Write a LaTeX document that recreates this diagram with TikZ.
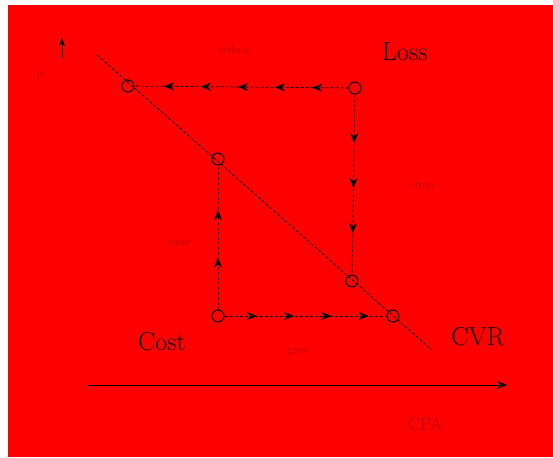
\documentclass[tikz,border=0pt]{standalone}
\usetikzlibrary{arrows.meta,decorations.markings}
\tikzset{mytip/.tip={Stealth[length=10pt,width=8pt]}}
\begin{document}
\begin{tikzpicture}[x=1pt,y=-1pt,
  dot/.style={circle,draw=black,line width=1pt,minimum size=12pt,inner sep=0pt},
  flow/.style={densely dashed,line width=0.7pt},
  lbl/.style={font=\fontsize{26}{28}\selectfont,text=black},
  faint/.style={font=\fontsize{11}{12}\selectfont,text=red!70!black}]
\useasboundingbox (0,0) rectangle (553,457);
\fill[red] (8,5) rectangle (553,457);
% axes
\coordinate (ytop) at (62,38);
\coordinate (ybot) at (62,58);
\draw[line width=0.8pt,-{Stealth[length=8pt,width=6pt]}] (ybot) -- (ytop);
\coordinate (xl) at (88,385);
\coordinate (xr) at (507,385);
\draw[line width=0.8pt,-{Stealth[length=10pt,width=8pt]}] (xl) -- (xr);
% diagonal
\coordinate (d0) at (97,55);
\coordinate (d1) at (432,350);
\draw[densely dashed,line width=0.8pt] (d0) -- (d1);
% nodes
\node[dot] (tl) at (128,86) {};
\node[dot] (tr) at (355,88) {};
\node[dot] (mid) at (218,159) {};
\node[dot] (lr) at (352,281) {};
\node[dot] (bl) at (218,316) {};
\node[dot] (br) at (393,316) {};
% flows
\draw[flow,postaction={decorate},decoration={markings,
  mark=between positions 0.17 and 0.9 step 0.173 with {\arrow{mytip}}}]
  (tr) -- (tl);
\draw[flow,postaction={decorate},decoration={markings,
  mark=between positions 0.27 and 0.8 step 0.25 with {\arrow{mytip}}}]
  (tr) -- (lr);
\draw[flow,postaction={decorate},decoration={markings,
  mark=between positions 0.2 and 0.95 step 0.23 with {\arrow{mytip}}}]
  (bl) -- (br);
\draw[flow,postaction={decorate},decoration={markings,
  mark=between positions 0.36 and 0.75 step 0.33 with {\arrow{mytip}}}]
  (bl) -- (mid);
% labels
\node[lbl] (loss) at (405,52) {Loss};
\node[lbl] (cvr) at (478,337) {CVR};
\node[lbl] (cost) at (162,342) {Cost};
\node[faint,font=\fontsize{18}{20}\selectfont] (cpa) at (425,424) {CPA};
\node[faint] (t1) at (235,50) {reduce};
\node[faint] (t2) at (180,242) {raise};
\node[faint] (t3) at (423,186) {drop};
\node[faint] (t4) at (298,352) {grow};
\node[faint] (t5) at (40,76) {P};
\end{tikzpicture}
\end{document}
